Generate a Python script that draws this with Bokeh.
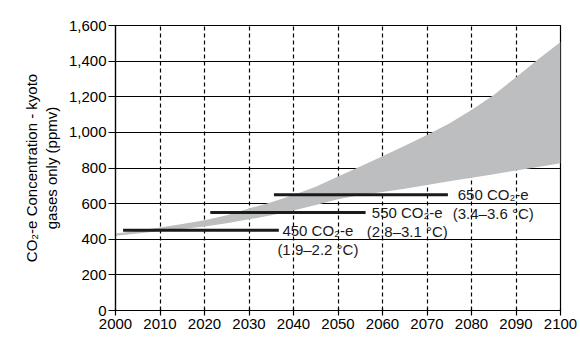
from bokeh.plotting import figure
from bokeh.models import Range1d, FixedTicker, NumeralTickFormatter, ColumnDataSource
from bokeh.core.properties import value
from bokeh.embed import file_html
from bokeh.resources import INLINE

# Projected CO2-e concentration range (Kyoto gases only), ppmv
years = [2000, 2005, 2010, 2015, 2020, 2025, 2030, 2035, 2040, 2045, 2050,
         2055, 2060, 2065, 2070, 2075, 2080, 2085, 2090, 2095, 2100]
upper = [432, 448, 466, 485, 507, 535, 572, 608, 648, 695, 752,
         808, 866, 925, 985, 1050, 1125, 1210, 1310, 1410, 1507]
lower = [420, 432, 446, 458, 472, 490, 512, 535, 562, 592, 625,
         648, 665, 684, 705, 725, 745, 765, 786, 806, 827]

# Stabilisation levels, the span over which each is drawn, and their labels
levels = [450, 550, 650]
level_start = [2001.7, 2021.3, 2035.6]
level_end = [2036.7, 2056.2, 2074.7]
label_year = [2037.5, 2057.6, 2076.9]
level_names = ["450 CO\u2082-e", "550 CO\u2082-e", "650 CO\u2082-e"]
level_temps = ["(1.9\u20132.2 \u00b0C)", "(2.8\u20133.1 \u00b0C)", "(3.4\u20133.6 \u00b0C)"]

x_ticks = list(range(2000, 2101, 10))
y_ticks = list(range(0, 1601, 200))

FONT = "Liberation Sans"

p = figure(frame_width=445, frame_height=285, output_backend="svg",
           toolbar_location=None,
           x_range=Range1d(2000, 2100), y_range=Range1d(0, 1600),
           min_border_left=115, min_border_right=20, min_border_top=25,
           min_border_bottom=44)

p.background_fill_color = "white"
p.border_fill_color = "white"
p.outline_line_color = "black"
p.outline_line_width = 1.2

# grid: solid horizontal, dashed vertical
p.ygrid.ticker = FixedTicker(ticks=y_ticks)
p.ygrid.grid_line_color = "black"
p.ygrid.grid_line_width = 1.2
p.xgrid.ticker = FixedTicker(ticks=x_ticks)
p.xgrid.grid_line_color = "black"
p.xgrid.grid_line_width = 1.2
p.xgrid.grid_line_dash = "4 3"

for ax in (p.xaxis[0], p.yaxis[0]):
    ax.axis_line_color = "black"
    ax.axis_line_width = 1.2
    ax.major_tick_line_color = "black"
    ax.major_tick_line_width = 1.2
    ax.minor_tick_line_color = None
    ax.major_label_text_font = FONT
    ax.major_label_text_font_size = "15px"
    ax.major_label_text_color = "black"

p.xaxis.ticker = FixedTicker(ticks=x_ticks)
p.xaxis.major_tick_in = 2
p.xaxis.major_tick_out = 5
p.xaxis.major_label_standoff = 3

p.yaxis.ticker = FixedTicker(ticks=y_ticks)
p.yaxis.formatter = NumeralTickFormatter(format="0,0")
p.yaxis.major_tick_in = 0
p.yaxis.major_tick_out = 7
p.yaxis.major_label_standoff = 2
p.yaxis.axis_label = "CO\u2082-e Concentration - kyoto\ngases only (ppmv)"
p.yaxis.axis_label_text_font = FONT
p.yaxis.axis_label_text_font_size = "15px"
p.yaxis.axis_label_text_font_style = "normal"
p.yaxis.axis_label_text_color = "black"
p.yaxis.axis_label_text_line_height = 1.15
p.yaxis.axis_label_standoff = 6

# projection band
band = ColumnDataSource(dict(x=years, y1=lower, y2=upper))
p.varea(x="x", y1="y1", y2="y2", source=band, fill_color="#bdbec0")

# stabilisation level lines with their labels
lv = ColumnDataSource(dict(x0=level_start, x1=level_end, y=levels,
                           name=level_names, temp=level_temps, tx=label_year))
p.segment(x0="x0", y0="y", x1="x1", y1="y", source=lv,
          line_color="#1a1a1a", line_width=3)
p.text(x="tx", y="y", text="name", source=lv, text_font=value(FONT),
       text_font_size="15px", text_color="#1a1a1a", text_baseline="middle",
       text_align="left")
p.text(x="tx", y="y", text="temp", source=lv, text_font=value(FONT),
       text_font_size="15px", text_color="#1a1a1a", text_baseline="middle",
       text_align="left", x_offset=-5, y_offset=19)

open("out.html", "w").write(file_html(p, INLINE))
